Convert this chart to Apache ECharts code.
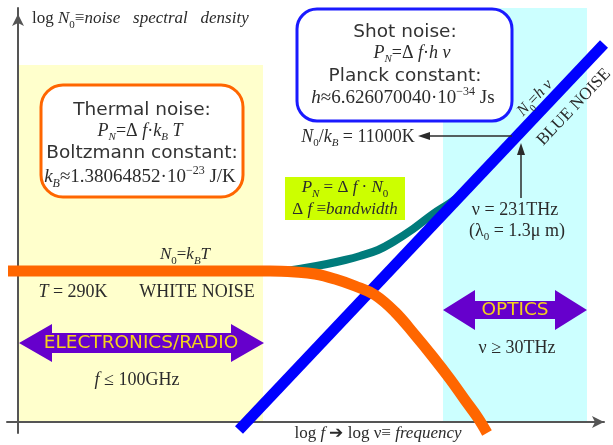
<!DOCTYPE html>
<html>
<head>
<meta charset="utf-8">
<title>Noise spectral density</title>
<script src="https://cdn.jsdelivr.net/npm/echarts@6/dist/echarts.min.js"></script>
<style>
  html, body { margin: 0; padding: 0; background: #fff; }
  #chart { width: 613px; height: 445px; }
</style>
</head>
<body>
<div id="chart"></div>
<script>
// units: x = log f, y = log N0 (arbitrary decades)
const thermalCurve = [
  [-1.0, 15.1], [25.2, 15.1], [27.7, 15.0], [29.7, 14.8], [31.7, 14.3], [33.7, 13.6],
  [35.7, 12.7], [37.7, 11.0], [39.7, 8.7], [41.5, 6.5], [43.2, 4.3], [44.7, 2.2],
  [46.0, 0.4], [46.9, -1.1]
]
const quantumCurve = [
  [26.7, 15.1], [28.7, 15.4], [30.9, 15.8], [32.7, 16.2], [34.2, 16.6], [36.0, 17.2],
  [37.5, 18.0], [39.5, 19.3], [41.5, 20.8], [43.2, 21.9], [44.7, 23.0]
]
const blueNoise = [[22.1, -0.8], [58.6, 37.8]]
const electronicsBand = [[0.1, 0], [24.5, 35.7]]
const opticsBand = [[42.5, 0], [56.9, 41.4]]

const SERIF = '"Liberation Serif", "DejaVu Serif", serif'
const SANS = '"DejaVu Sans", Verdana, sans-serif'
const INK = '#2b2b2b'
const YELLOW = '#f5d31a'
const PURPLE = '#6600cc'

function rich(size) {
  const sub = Math.round(size * 0.62)
  return {
    r: { font: `${size}px ${SERIF}` },
    i: { font: `italic ${size}px ${SERIF}` },
    s: { font: `italic ${sub}px ${SERIF}`, verticalAlign: 'bottom' },
    n: { font: `${sub}px ${SERIF}`, verticalAlign: 'bottom' },
    p: { font: `${sub}px ${SERIF}`, verticalAlign: 'top' },
  }
}

function math(text, x, y, size, rotation, align) {
  return {
    type: 'text', x, y, z: 100, silent: true, rotation: rotation || 0,
    style: {
      legacy: false, text, fill: INK, font: `${size}px ${SERIF}`,
      align: align || 'center', verticalAlign: 'middle', lineHeight: size + 6, rich: rich(size),
    },
  }
}

function plain(text, x, y, size, color) {
  return {
    type: 'text', x, y, z: 100, silent: true,
    style: { legacy: false, text, fill: color || '#333', font: `${size}px ${SANS}`, align: 'center', verticalAlign: 'middle' },
  }
}

function box(x, y, w, h, r, stroke) {
  return { type: 'rect', z: 90, silent: true, shape: { x, y, width: w, height: h, r }, style: { fill: '#fff', stroke, lineWidth: 3 } }
}

function doubleArrow(x0, x1, cy, head, body, half) {
  return {
    type: 'polygon', z: 90, silent: true,
    shape: { points: [
      [x0, cy], [x0 + head, cy - half], [x0 + head, cy - body], [x1 - head, cy - body], [x1 - head, cy - half],
      [x1, cy], [x1 - head, cy + half], [x1 - head, cy + body], [x0 + head, cy + body], [x0 + head, cy + half],
    ] },
    style: { fill: PURPLE },
  }
}

const slope = 0.813

const chart = echarts.init(document.getElementById('chart'), null, { renderer: 'canvas' })
chart.setOption({
  animation: false,
  backgroundColor: '#fff',
  grid: { left: 7, right: 9, top: 8, bottom: 12, containLabel: false },
  xAxis: {
    type: 'value', min: -1.1, max: 58.6, z: 2,
    axisLine: { onZero: true, symbol: ['none', 'arrow'], symbolSize: [9, 12], lineStyle: { color: '#555', width: 2 } },
    axisTick: { show: false }, axisLabel: { show: false }, splitLine: { show: false },
  },
  yAxis: {
    type: 'value', min: -1.1, max: 41.4, z: 2,
    axisLine: { onZero: true, symbol: ['none', 'arrow'], symbolSize: [9, 12], symbolOffset: [0, -6], lineStyle: { color: '#555', width: 2 } },
    axisTick: { show: false }, axisLabel: { show: false }, splitLine: { show: false },
  },
  series: [
    {
      type: 'line', data: [], z: 1, silent: true,
      markArea: {
        silent: true,
        data: [
          [{ coord: electronicsBand[0], itemStyle: { color: '#ffffcc', opacity: 1 } }, { coord: electronicsBand[1] }],
          [{ coord: opticsBand[0], itemStyle: { color: '#ccffff', opacity: 1 } }, { coord: opticsBand[1] }],
        ],
      },
    },
    { type: 'line', data: quantumCurve, smooth: 0.4, symbol: 'none', clip: false, silent: true, z: 3, lineStyle: { color: '#007b7b', width: 8 } },
    { type: 'line', data: blueNoise, symbol: 'none', clip: false, silent: true, z: 4, lineStyle: { color: '#0000ff', width: 11 } },
    { type: 'line', data: thermalCurve, smooth: 0.4, symbol: 'none', clip: false, silent: true, z: 5, lineStyle: { color: '#ff6600', width: 11 } },
  ],
  graphic: [
    // axis titles
    math('{r|log }{i|N}{n|0}{r|≡}{i|noise   spectral   density}', 32, 19, 17, 0, 'left'),
    math('{r|log }{i|f}{r| ➔ log ν≡ }{i|frequency}', 378, 434, 17),

    // thermal noise
    box(41, 85, 202, 112, 22, '#ff6600'),
    plain('Thermal noise:', 142, 110, 18.5),
    math('{i|P}{s|N}{r|=Δ }{i|f}{r|·}{i|k}{s|B}{i| T}', 140, 131, 18),
    plain('Boltzmann constant:', 142, 153, 18.5),
    math('{i|k}{s|B}{r|≈1.38064852·10}{p|−23}{r| J/K}', 140, 177, 19),

    // shot noise
    box(297, 9, 215, 112, 20, '#1a1aff'),
    plain('Shot noise:', 405, 32, 18.5),
    math('{i|P}{s|N}{r|=Δ }{i|f}{r|·}{i|h ν}', 412, 53, 18),
    plain('Planck constant:', 405, 76, 18.5),
    math('{i|h}{r|≈6.626070040·10}{p|−34}{r| Js}', 403, 98, 19),

    // blue noise labels
    math('{i|N}{n|0}{r|=}{i|h ν}', 535, 98, 16, slope),
    math('{r|BLUE NOISE}', 574, 107, 17, slope),

    // crossover arrows
    { type: 'line', z: 95, silent: true, shape: { x1: 512, y1: 136, x2: 426, y2: 136 }, style: { stroke: INK, lineWidth: 1.5 } },
    { type: 'polygon', z: 95, silent: true, shape: { points: [[418, 136], [430, 132], [430, 140]] }, style: { fill: INK } },
    { type: 'line', z: 95, silent: true, shape: { x1: 521, y1: 198, x2: 521, y2: 152 }, style: { stroke: INK, lineWidth: 1.5 } },
    { type: 'polygon', z: 95, silent: true, shape: { points: [[521, 143], [517, 155], [525, 155]] }, style: { fill: INK } },
    math('{i|N}{n|0}{r|/}{i|k}{s|B}{r| = 11000K}', 358, 137, 18),
    math('{r|ν = 231THz}', 515, 210, 18),
    math('{r|(λ}{n|0}{r| = 1.3μ m)}', 517, 231, 18),

    // bandwidth note
    { type: 'rect', z: 90, silent: true, shape: { x: 285, y: 177, width: 120, height: 43 }, style: { fill: '#ccff00' } },
    math('{i|P}{s|N}{r| = Δ }{i|f}{r| · }{i|N}{n|0}', 345, 188, 17),
    math('{r|Δ }{i|f}{r| ≡}{i|bandwidth}', 345, 210, 17),

    // white noise
    math('{i|N}{n|0}{r|=}{i|k}{s|B}{i|T}', 185, 255, 17),
    math('{i|T}{r| = 290K}', 73, 292, 18),
    math('{r|WHITE NOISE}', 197, 292, 18),

    // bands
    doubleArrow(19, 264, 343, 33, 10, 19),
    plain('ELECTRONICS/RADIO', 141, 343, 18.5, YELLOW),
    math('{i|f}{r| ≤ 100GHz}', 137, 380, 18),
    doubleArrow(443, 587, 310, 32, 9, 20),
    plain('OPTICS', 515, 310, 18.5, YELLOW),
    math('{r|ν ≥ 30THz}', 517, 348, 18),
  ],
})
</script>
</body>
</html>
